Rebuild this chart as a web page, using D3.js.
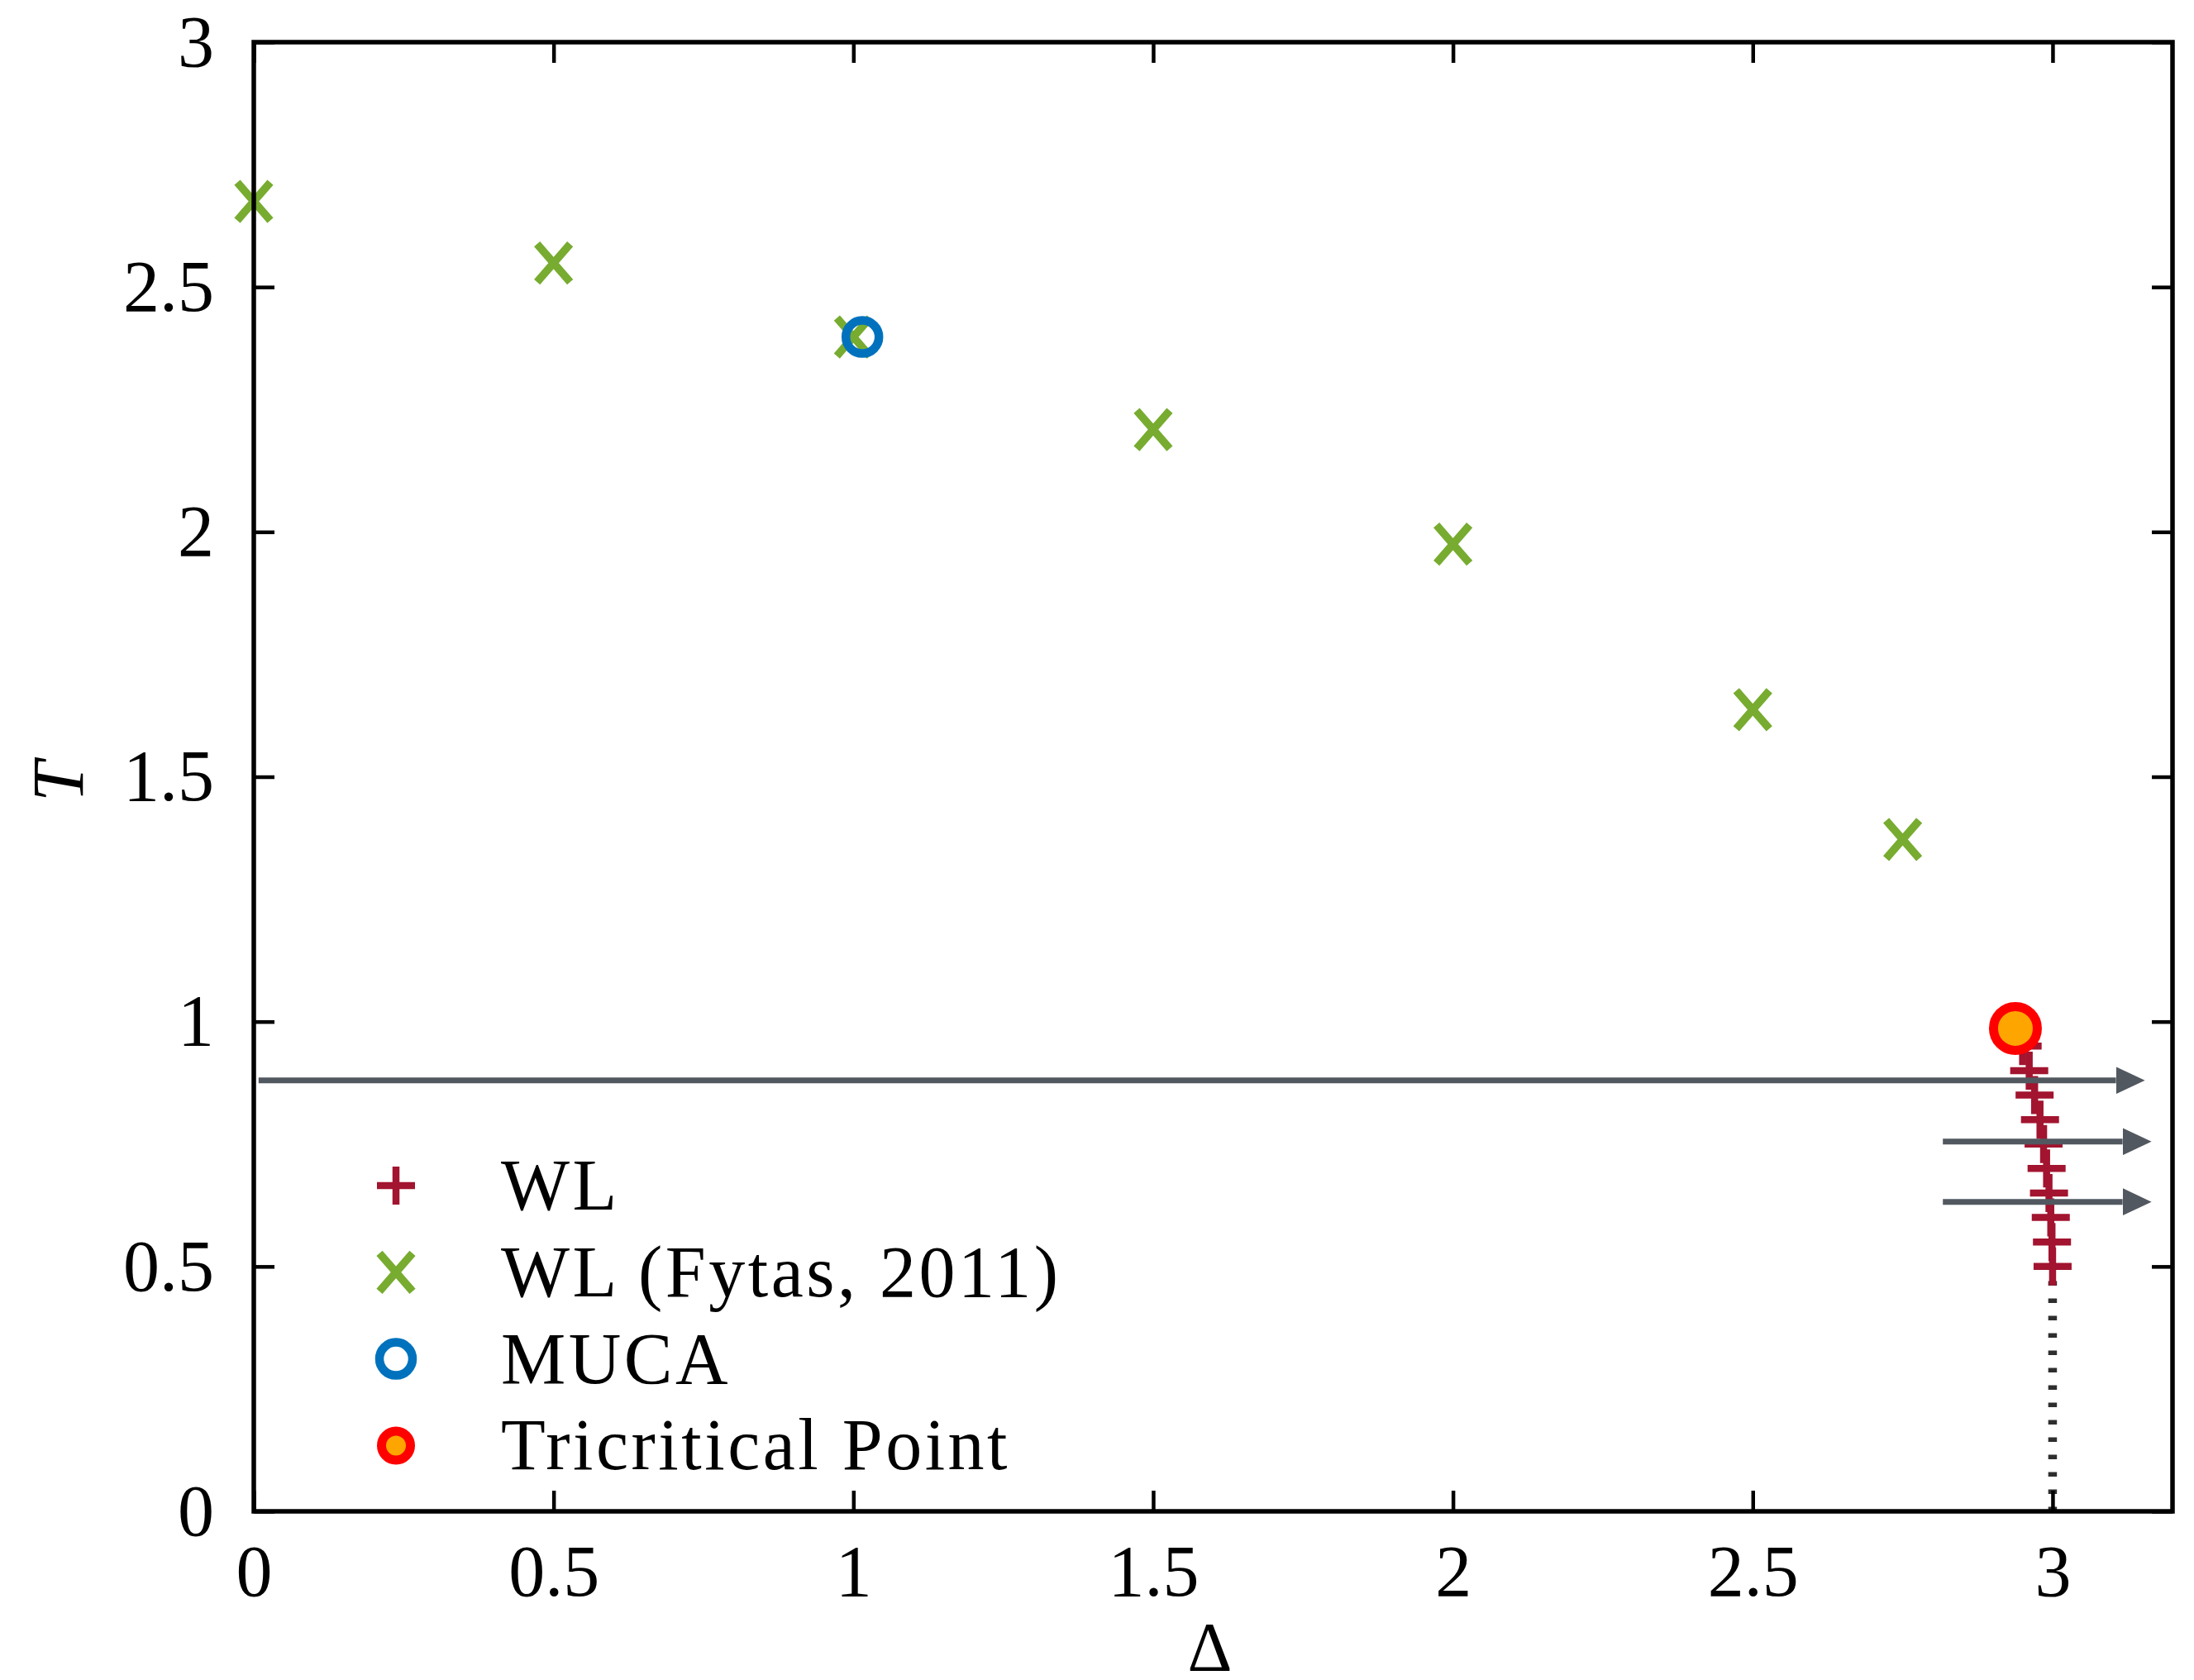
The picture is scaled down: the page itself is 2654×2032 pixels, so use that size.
<!DOCTYPE html>
<html>
<head>
<meta charset="utf-8">
<script src="https://cdn.jsdelivr.net/npm/d3@7"></script>
<style>
  html, body { margin: 0; padding: 0; background: #ffffff; }
  svg { display: block; }
</style>
</head>
<body>
<script>
// ---------------- data ----------------
const xTicks = [0, 0.5, 1, 1.5, 2, 2.5, 3];
const xTickLabels = ["0", "0.5", "1", "1.5", "2", "2.5", "3"];
const yTicks = [0, 0.5, 1, 1.5, 2, 2.5, 3];
const yTickLabels = ["0", "0.5", "1", "1.5", "2", "2.5", "3"];

// WL (this work)
const wlDelta = [2.950, 2.961, 2.970, 2.979, 2.985, 2.990, 2.994, 2.997, 2.999, 3.000];
const wlT     = [0.95, 0.90, 0.85, 0.80, 0.75, 0.70, 0.65, 0.60, 0.55, 0.50];

// WL (Fytas, 2011)
const fytasDelta = [0, 0.5, 1.0, 1.5, 2.0, 2.5, 2.75];
const fytasT     = [2.675, 2.549, 2.398, 2.209, 1.975, 1.637, 1.372];

// MUCA
const mucaDelta = [1.015];
const mucaT     = [2.398];

// Tricritical point
const tcpDelta = [2.938];
const tcpT     = [0.986];

// first-order region indicator (dotted line at Delta = 3)
const dottedDelta = [3, 3];
const dottedT     = [0, 0.475];

// arrows
const arrowT     = [0.880, 0.755, 0.632];
const arrowStart = [0.008, 2.817, 2.817];
const arrowEnd   = [3.154, 3.165, 3.165];

const legendLabels = ["WL", "WL (Fytas, 2011)", "MUCA", "Tricritical Point"];
const legendKinds  = ["plus", "cross", "ring", "tcp"];

// ---------------- layout ----------------
const W = 2654, H = 2032;
const L = 307, R = 2628, T = 51, B = 1828;
const FONT = "'Liberation Serif', 'Times New Roman', serif";

const colWL = "#a2142f", colFy = "#77ac30", colMU = "#0072bd";
const colArrow = "#525860";

const x = d3.scaleLinear().domain([0, 3.2]).range([L, R]);
const y = d3.scaleLinear().domain([0, 3]).range([B, T]);

const svg = d3.select("body").append("svg")
  .attr("width", W).attr("height", H)
  .style("background", "#fff");

svg.append("rect").attr("width", W).attr("height", H).attr("fill", "#fff");

// marker shapes
const plusPath  = "M-23,0H23M0,-23V23";
const crossPath = "M-20,-23L20,23M-20,23L20,-23";
const PLUS_W = 8.5, CROSS_W = 9.5, RING_W = 10.5;

// ---------------- dotted line ----------------
svg.append("path")
  .datum(dottedDelta.map((d, i) => [d, dottedT[i]]))
  .attr("d", d3.line().x(d => x(d[0])).y(d => y(d[1])))
  .attr("stroke", "#2e2e2e").attr("stroke-width", 10.5)
  .attr("stroke-dasharray", "5.5,15.5").attr("fill", "none");

// ---------------- WL plus markers ----------------
svg.append("g").selectAll("path")
  .data(wlDelta.map((d, i) => [d, wlT[i]]))
  .join("path")
  .attr("transform", d => `translate(${x(d[0])},${y(d[1])})`)
  .attr("d", plusPath)
  .attr("stroke", colWL).attr("stroke-width", PLUS_W).attr("fill", "none");

// ---------------- Fytas crosses ----------------
svg.append("g").selectAll("path")
  .data(fytasDelta.map((d, i) => [d, fytasT[i]]))
  .join("path")
  .attr("transform", d => `translate(${x(d[0])},${y(d[1])})`)
  .attr("d", crossPath)
  .attr("stroke", colFy).attr("stroke-width", CROSS_W).attr("fill", "none");

// ---------------- MUCA ----------------
svg.append("g").selectAll("circle")
  .data(mucaDelta.map((d, i) => [d, mucaT[i]]))
  .join("circle")
  .attr("cx", d => x(d[0])).attr("cy", d => y(d[1]))
  .attr("r", 20).attr("fill", "none")
  .attr("stroke", colMU).attr("stroke-width", RING_W);

// ---------------- arrows ----------------
const HEAD_L = 35, HEAD_H = 33;
const defs = svg.append("defs");
defs.append("marker")
  .attr("id", "ah").attr("markerUnits", "userSpaceOnUse")
  .attr("markerWidth", HEAD_L).attr("markerHeight", HEAD_H)
  .attr("refX", 0).attr("refY", HEAD_H / 2)
  .attr("orient", "auto")
  .append("path")
  .attr("d", `M0,0L${HEAD_L},${HEAD_H / 2}L0,${HEAD_H}Z`)
  .attr("fill", colArrow);

svg.append("g").selectAll("line")
  .data(arrowT.map((t, i) => ({t, s: arrowStart[i], e: arrowEnd[i]})))
  .join("line")
  .attr("x1", d => x(d.s)).attr("y1", d => y(d.t))
  .attr("x2", d => x(d.e) - HEAD_L).attr("y2", d => y(d.t))
  .attr("stroke", colArrow).attr("stroke-width", 7)
  .attr("marker-end", "url(#ah)");

// ---------------- Tricritical point ----------------
svg.append("g").selectAll("circle")
  .data(tcpDelta.map((d, i) => [d, tcpT[i]]))
  .join("circle")
  .attr("cx", d => x(d[0])).attr("cy", d => y(d[1]))
  .attr("r", 26.5).attr("fill", "#ffa500")
  .attr("stroke", "#ff0000").attr("stroke-width", 11);

// ---------------- axes ----------------
const TICK = 25;
const fmtX = (d) => xTickLabels[xTicks.indexOf(d)];
const fmtY = (d) => yTickLabels[yTicks.indexOf(d)];

const gB = svg.append("g").attr("transform", `translate(0,${B})`)
  .call(d3.axisBottom(x).tickValues(xTicks).tickFormat(fmtX)
    .tickSizeInner(-TICK).tickSizeOuter(0).tickPadding(40));
const gTop = svg.append("g").attr("transform", `translate(0,${T})`)
  .call(d3.axisTop(x).tickValues(xTicks).tickFormat("")
    .tickSizeInner(-TICK).tickSizeOuter(0));
const gL = svg.append("g").attr("transform", `translate(${L},0)`)
  .call(d3.axisLeft(y).tickValues(yTicks).tickFormat(fmtY)
    .tickSizeInner(-TICK).tickSizeOuter(0).tickPadding(48));
const gR = svg.append("g").attr("transform", `translate(${R},0)`)
  .call(d3.axisRight(y).tickValues(yTicks).tickFormat("")
    .tickSizeInner(-TICK).tickSizeOuter(0));

[gB, gTop, gL, gR].forEach(g => {
  g.select(".domain").remove();
  g.selectAll(".tick line").attr("stroke", "#000").attr("stroke-width", 4.5);
  g.selectAll(".tick text").attr("font-family", FONT)
    .attr("font-size", 88).attr("fill", "#000");
});

// frame
svg.append("rect")
  .attr("x", L).attr("y", T).attr("width", R - L).attr("height", B - T)
  .attr("fill", "none").attr("stroke", "#000").attr("stroke-width", 5.5);

// axis titles
svg.append("text")
  .attr("transform", `translate(100,${(T + B) / 2 + 6}) rotate(-90)`)
  .attr("text-anchor", "middle")
  .attr("font-family", FONT).attr("font-style", "italic")
  .attr("font-size", 88).text("T");

svg.append("text")
  .attr("x", (L + R) / 2 - 4).attr("y", 2021)
  .attr("text-anchor", "middle")
  .attr("font-family", FONT).attr("font-size", 84).text("Δ");

// ---------------- legend ----------------
const legX = 479, legTextX = 606, legY0 = 1434, legDY = 104.8;
const leg = svg.append("g");
legendLabels.forEach((lab, i) => {
  const cy = legY0 + i * legDY;
  const g = leg.append("g").attr("transform", `translate(${legX},${cy})`);
  const k = legendKinds[i];
  if (k === "plus") {
    g.append("path").attr("d", plusPath).attr("stroke", colWL)
      .attr("stroke-width", PLUS_W).attr("fill", "none");
  } else if (k === "cross") {
    g.append("path").attr("d", crossPath).attr("stroke", colFy)
      .attr("stroke-width", CROSS_W).attr("fill", "none");
  } else if (k === "ring") {
    g.append("circle").attr("r", 20).attr("fill", "none")
      .attr("stroke", colMU).attr("stroke-width", RING_W);
  } else {
    g.append("circle").attr("r", 17.5).attr("fill", "#ffa500")
      .attr("stroke", "#ff0000").attr("stroke-width", 11);
  }
  leg.append("text")
    .attr("x", legTextX).attr("y", cy + 29)
    .attr("font-family", FONT).attr("font-size", 88)
    .attr("letter-spacing", 3.5)
    .text(lab);
});
</script>
</body>
</html>
